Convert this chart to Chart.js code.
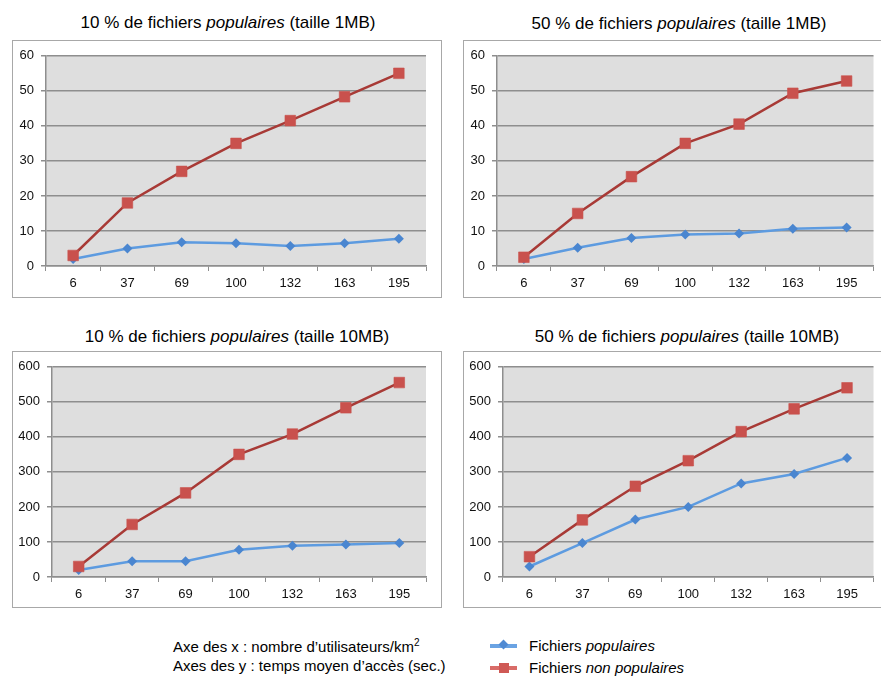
<!DOCTYPE html>
<html>
<head>
<meta charset="utf-8">
<script src="https://cdn.jsdelivr.net/npm/chart.js@4.4.0/dist/chart.umd.min.js"></script>
<style>
  body { margin: 0; width: 881px; height: 676px; overflow: hidden; background: #fff; position: relative;
         font-family: "Liberation Sans", Arial, sans-serif; color: #000; }
  .title { position: absolute; width: 420px; text-align: center; font-size: 17px; line-height: 20px; white-space: nowrap; }
  .box { position: absolute; border: 1px solid #a8a8a8; }
  .box canvas { display: block; }
  .note { position: absolute; left: 173px; top: 637px; font-size: 15px; line-height: 19px; white-space: nowrap; }
  .leg { position: absolute; left: 490px; font-size: 15px; line-height: 18px; }
  .leg .ln { position: absolute; left: 0; top: 7px; width: 27px; height: 4px; }
  .leg .mk { position: absolute; }
  .leg span.t { position: absolute; left: 39px; top: 0; white-space: nowrap; }
</style>
</head>
<body>

<div class="title" style="left:18px; top:13px;">10 % de fichiers <i>populaires</i> (taille 1MB)</div>
<div class="title" style="left:469px; top:14px;">50 % de fichiers <i>populaires</i> (taille 1MB)</div>
<div class="title" style="left:27px; top:327px;">10 % de fichiers <i>populaires</i> (taille 10MB)</div>
<div class="title" style="left:477px; top:327px;">50 % de fichiers <i>populaires</i> (taille 10MB)</div>

<div class="box" style="left:12px; top:40px;"><canvas id="c1" width="428" height="256" style="width:428px;height:256px"></canvas></div>
<div class="box" style="left:463px; top:40px;"><canvas id="c2" width="418" height="256" style="width:418px;height:256px"></canvas></div>
<div class="box" style="left:12px; top:351px;"><canvas id="c3" width="428" height="255" style="width:428px;height:255px"></canvas></div>
<div class="box" style="left:463px; top:351px;"><canvas id="c4" width="418" height="255" style="width:418px;height:255px"></canvas></div>

<div class="note">Axe des x : nombre d’utilisateurs/km<sup style="font-size:10px; vertical-align: 6px; line-height:0">2</sup><br>Axes des y : temps moyen d’accès (sec.)</div>

<div class="leg" style="top:637px;">
  <div class="ln" style="background:#6aa3e3;"></div>
  <div class="mk" style="left:10px; top:4px; width:7px; height:7px; background:#4f8ad3; transform:rotate(45deg);"></div>
  <span class="t">Fichiers <i>populaires</i></span>
</div>
<div class="leg" style="top:659px;">
  <div class="ln" style="background:#d96c68;"></div>
  <div class="mk" style="left:9px; top:4px; width:10px; height:10px; background:#cf5955;"></div>
  <span class="t">Fichiers <i>non populaires</i></span>
</div>

<script>
// abscisses : nombre d'utilisateurs/km²
const categories = ['6', '37', '69', '100', '132', '163', '195'];

// 10 % populaires, 1MB
const pop10_1MB = [2, 5, 6.8, 6.5, 5.7, 6.5, 7.8];
const nonPop10_1MB = [3, 18, 27, 35, 41.5, 48.3, 55];

// 50 % populaires, 1MB
const pop50_1MB = [2, 5.2, 8, 9, 9.3, 10.6, 11];
const nonPop50_1MB = [2.5, 15, 25.5, 35, 40.5, 49.3, 52.8];

// 10 % populaires, 10MB
const pop10_10MB = [20, 45, 45, 78, 89, 93, 97];
const nonPop10_10MB = [30, 150, 240, 350, 408, 483, 555];

// 50 % populaires, 10MB
const pop50_10MB = [30, 97, 164, 200, 267, 294, 340];
const nonPop50_10MB = [58, 163, 259, 332, 415, 480, 540];

const blueLine = '#5d9be0';
const blueMark = '#4a86d0';
const redLine = '#a83a36';
const redMark = '#c9514d';
const gridCol = '#8e8e8e';

// fond gris de la zone de tracé
const plotBg = {
  id: 'plotBg',
  beforeDraw(chart) {
    const a = chart.chartArea;
    const ctx = chart.ctx;
    ctx.save();
    ctx.fillStyle = '#dedede';
    ctx.fillRect(a.left, a.top, a.right - a.left, a.bottom - a.top);
    ctx.restore();
  }
};

function makeChart(id, pop, nonPop, max, step, yWidth, xHeight, padRight) {
  const ctx = document.getElementById(id).getContext('2d');
  return new Chart(ctx, {
    type: 'line',
    data: {
      labels: categories,
      datasets: [
        {
          label: 'Fichiers non populaires',
          data: nonPop,
          borderColor: redLine,
          borderWidth: 2.5,
          pointStyle: 'rect',
          pointRadius: 7.5,
          pointBackgroundColor: redMark,
          pointBorderColor: 'rgba(201,81,77,0.6)',
          pointBorderWidth: 1,
          tension: 0,
          order: 1
        },
        {
          label: 'Fichiers populaires',
          data: pop,
          borderColor: blueLine,
          borderWidth: 2.5,
          pointStyle: 'rectRot',
          pointRadius: 5,
          pointBackgroundColor: blueMark,
          pointBorderColor: blueMark,
          pointBorderWidth: 0,
          tension: 0,
          order: 2
        }
      ]
    },
    options: {
      responsive: false,
      animation: false,
      events: [],
      layout: { padding: { top: 14, right: padRight, left: 0, bottom: 0 } },
      plugins: { legend: { display: false }, tooltip: { enabled: false } },
      scales: {
        x: {
          offset: true,
          grid: { offset: true, drawOnChartArea: false, drawTicks: true, tickLength: 5, color: gridCol },
          border: { display: true, color: gridCol, width: 1.5 },
          ticks: { color: '#111', font: { family: 'Liberation Sans', size: 13 }, padding: 5, maxRotation: 0 },
          afterFit(scale) { scale.height = xHeight; }
        },
        y: {
          min: 0,
          max: max,
          ticks: { stepSize: step, color: '#111', font: { family: 'Liberation Sans', size: 13 }, padding: 7 },
          grid: { color: gridCol, lineWidth: 1.5, tickLength: 5 },
          border: { display: true, color: gridCol, width: 1.5 },
          afterFit(scale) { scale.width = yWidth; }
        }
      }
    },
    plugins: [plotBg]
  });
}

makeChart('c1', pop10_1MB, nonPop10_1MB, 60, 10, 33, 31, 15);
makeChart('c2', pop50_1MB, nonPop50_1MB, 60, 10, 33, 31, 5);
makeChart('c3', pop10_10MB, nonPop10_10MB, 600, 100, 39, 30, 15);
makeChart('c4', pop50_10MB, nonPop50_10MB, 600, 100, 39, 30, 5);
</script>
</body>
</html>
